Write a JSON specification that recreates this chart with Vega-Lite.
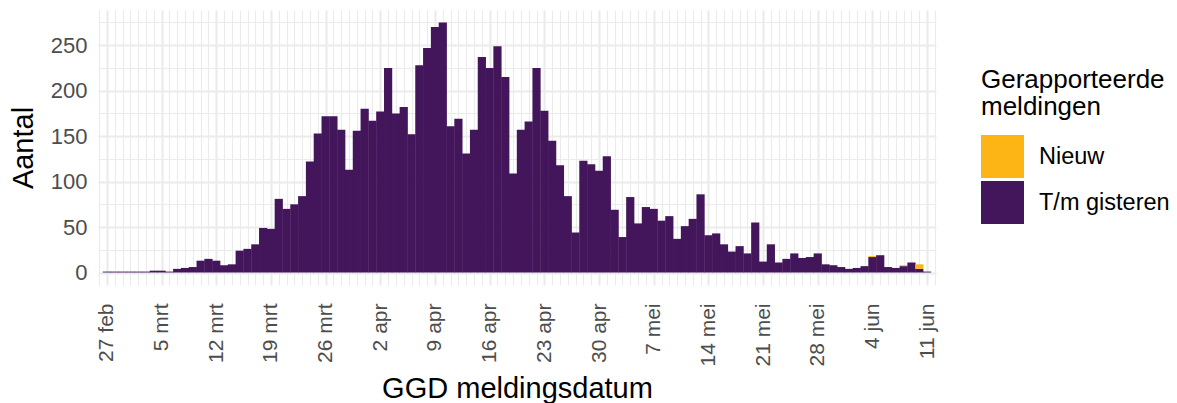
{
  "$schema": "https://vega.github.io/schema/vega-lite/v6.json",
  "width": 838,
  "height": 275,
  "autosize": {"type": "none"},
  "padding": {"left": 98, "top": 10, "right": 241, "bottom": 118},
  "background": "white",
  "config": {
    "font": "Liberation Sans",
    "view": {"stroke": null}
  },
  "data": {
    "values": [
      {"date": "2020-02-27", "serie": "T/m gisteren", "n": 1},
      {"date": "2020-02-28", "serie": "T/m gisteren", "n": 1},
      {"date": "2020-02-29", "serie": "T/m gisteren", "n": 1},
      {"date": "2020-03-01", "serie": "T/m gisteren", "n": 1},
      {"date": "2020-03-02", "serie": "T/m gisteren", "n": 1},
      {"date": "2020-03-03", "serie": "T/m gisteren", "n": 1},
      {"date": "2020-03-04", "serie": "T/m gisteren", "n": 2},
      {"date": "2020-03-05", "serie": "T/m gisteren", "n": 2},
      {"date": "2020-03-06", "serie": "T/m gisteren", "n": 1},
      {"date": "2020-03-07", "serie": "T/m gisteren", "n": 4},
      {"date": "2020-03-08", "serie": "T/m gisteren", "n": 5},
      {"date": "2020-03-09", "serie": "T/m gisteren", "n": 6},
      {"date": "2020-03-10", "serie": "T/m gisteren", "n": 13},
      {"date": "2020-03-11", "serie": "T/m gisteren", "n": 15},
      {"date": "2020-03-12", "serie": "T/m gisteren", "n": 13},
      {"date": "2020-03-13", "serie": "T/m gisteren", "n": 8},
      {"date": "2020-03-14", "serie": "T/m gisteren", "n": 9},
      {"date": "2020-03-15", "serie": "T/m gisteren", "n": 24},
      {"date": "2020-03-16", "serie": "T/m gisteren", "n": 26},
      {"date": "2020-03-17", "serie": "T/m gisteren", "n": 31},
      {"date": "2020-03-18", "serie": "T/m gisteren", "n": 49},
      {"date": "2020-03-19", "serie": "T/m gisteren", "n": 48},
      {"date": "2020-03-20", "serie": "T/m gisteren", "n": 81},
      {"date": "2020-03-21", "serie": "T/m gisteren", "n": 70},
      {"date": "2020-03-22", "serie": "T/m gisteren", "n": 75},
      {"date": "2020-03-23", "serie": "T/m gisteren", "n": 84},
      {"date": "2020-03-24", "serie": "T/m gisteren", "n": 122},
      {"date": "2020-03-25", "serie": "T/m gisteren", "n": 153},
      {"date": "2020-03-26", "serie": "T/m gisteren", "n": 172},
      {"date": "2020-03-27", "serie": "T/m gisteren", "n": 172},
      {"date": "2020-03-28", "serie": "T/m gisteren", "n": 157},
      {"date": "2020-03-29", "serie": "T/m gisteren", "n": 113},
      {"date": "2020-03-30", "serie": "T/m gisteren", "n": 156},
      {"date": "2020-03-31", "serie": "T/m gisteren", "n": 180},
      {"date": "2020-04-01", "serie": "T/m gisteren", "n": 167},
      {"date": "2020-04-02", "serie": "T/m gisteren", "n": 177},
      {"date": "2020-04-03", "serie": "T/m gisteren", "n": 225},
      {"date": "2020-04-04", "serie": "T/m gisteren", "n": 175},
      {"date": "2020-04-05", "serie": "T/m gisteren", "n": 182},
      {"date": "2020-04-06", "serie": "T/m gisteren", "n": 152},
      {"date": "2020-04-07", "serie": "T/m gisteren", "n": 228},
      {"date": "2020-04-08", "serie": "T/m gisteren", "n": 247},
      {"date": "2020-04-09", "serie": "T/m gisteren", "n": 270},
      {"date": "2020-04-10", "serie": "T/m gisteren", "n": 275},
      {"date": "2020-04-11", "serie": "T/m gisteren", "n": 161},
      {"date": "2020-04-12", "serie": "T/m gisteren", "n": 169},
      {"date": "2020-04-13", "serie": "T/m gisteren", "n": 131},
      {"date": "2020-04-14", "serie": "T/m gisteren", "n": 157},
      {"date": "2020-04-15", "serie": "T/m gisteren", "n": 237},
      {"date": "2020-04-16", "serie": "T/m gisteren", "n": 225},
      {"date": "2020-04-17", "serie": "T/m gisteren", "n": 249},
      {"date": "2020-04-18", "serie": "T/m gisteren", "n": 215},
      {"date": "2020-04-19", "serie": "T/m gisteren", "n": 109},
      {"date": "2020-04-20", "serie": "T/m gisteren", "n": 157},
      {"date": "2020-04-21", "serie": "T/m gisteren", "n": 166},
      {"date": "2020-04-22", "serie": "T/m gisteren", "n": 225},
      {"date": "2020-04-23", "serie": "T/m gisteren", "n": 178},
      {"date": "2020-04-24", "serie": "T/m gisteren", "n": 145},
      {"date": "2020-04-25", "serie": "T/m gisteren", "n": 118},
      {"date": "2020-04-26", "serie": "T/m gisteren", "n": 84},
      {"date": "2020-04-27", "serie": "T/m gisteren", "n": 44},
      {"date": "2020-04-28", "serie": "T/m gisteren", "n": 123},
      {"date": "2020-04-29", "serie": "T/m gisteren", "n": 119},
      {"date": "2020-04-30", "serie": "T/m gisteren", "n": 112},
      {"date": "2020-05-01", "serie": "T/m gisteren", "n": 128},
      {"date": "2020-05-02", "serie": "T/m gisteren", "n": 69},
      {"date": "2020-05-03", "serie": "T/m gisteren", "n": 39},
      {"date": "2020-05-04", "serie": "T/m gisteren", "n": 83},
      {"date": "2020-05-05", "serie": "T/m gisteren", "n": 54},
      {"date": "2020-05-06", "serie": "T/m gisteren", "n": 72},
      {"date": "2020-05-07", "serie": "T/m gisteren", "n": 70},
      {"date": "2020-05-08", "serie": "T/m gisteren", "n": 57},
      {"date": "2020-05-09", "serie": "T/m gisteren", "n": 62},
      {"date": "2020-05-10", "serie": "T/m gisteren", "n": 37},
      {"date": "2020-05-11", "serie": "T/m gisteren", "n": 51},
      {"date": "2020-05-12", "serie": "T/m gisteren", "n": 59},
      {"date": "2020-05-13", "serie": "T/m gisteren", "n": 86},
      {"date": "2020-05-14", "serie": "T/m gisteren", "n": 41},
      {"date": "2020-05-15", "serie": "T/m gisteren", "n": 43},
      {"date": "2020-05-16", "serie": "T/m gisteren", "n": 31},
      {"date": "2020-05-17", "serie": "T/m gisteren", "n": 23},
      {"date": "2020-05-18", "serie": "T/m gisteren", "n": 29},
      {"date": "2020-05-19", "serie": "T/m gisteren", "n": 21},
      {"date": "2020-05-20", "serie": "T/m gisteren", "n": 55},
      {"date": "2020-05-21", "serie": "T/m gisteren", "n": 12},
      {"date": "2020-05-22", "serie": "T/m gisteren", "n": 31},
      {"date": "2020-05-23", "serie": "T/m gisteren", "n": 11},
      {"date": "2020-05-24", "serie": "T/m gisteren", "n": 15},
      {"date": "2020-05-25", "serie": "T/m gisteren", "n": 21},
      {"date": "2020-05-26", "serie": "T/m gisteren", "n": 16},
      {"date": "2020-05-27", "serie": "T/m gisteren", "n": 17},
      {"date": "2020-05-28", "serie": "T/m gisteren", "n": 21},
      {"date": "2020-05-29", "serie": "T/m gisteren", "n": 9},
      {"date": "2020-05-30", "serie": "T/m gisteren", "n": 8},
      {"date": "2020-05-31", "serie": "T/m gisteren", "n": 6},
      {"date": "2020-06-01", "serie": "T/m gisteren", "n": 4},
      {"date": "2020-06-02", "serie": "T/m gisteren", "n": 5},
      {"date": "2020-06-03", "serie": "T/m gisteren", "n": 7},
      {"date": "2020-06-04", "serie": "T/m gisteren", "n": 17},
      {"date": "2020-06-04", "serie": "Nieuw", "n": 1},
      {"date": "2020-06-05", "serie": "T/m gisteren", "n": 19},
      {"date": "2020-06-06", "serie": "T/m gisteren", "n": 6},
      {"date": "2020-06-07", "serie": "T/m gisteren", "n": 5},
      {"date": "2020-06-08", "serie": "T/m gisteren", "n": 7},
      {"date": "2020-06-08", "serie": "Nieuw", "n": 1},
      {"date": "2020-06-09", "serie": "T/m gisteren", "n": 11},
      {"date": "2020-06-10", "serie": "T/m gisteren", "n": 4},
      {"date": "2020-06-10", "serie": "Nieuw", "n": 5},
      {"date": "2020-06-11", "serie": "T/m gisteren", "n": 1}
    ],
    "format": {"parse": {"date": "date:'%Y-%m-%d'"}}
  },
  "layer": [
    {
      "mark": {"type": "bar", "opacity": 0},
      "encoding": {
        "x": {
          "field": "date", "type": "temporal",
          "scale": {"domain": [{"year": 2020, "month": 2, "date": 26, "hours": 12}, {"year": 2020, "month": 6, "date": 11, "hours": 12}]},
          "axis": {"orient": "bottom", "title": null, "labels": false, "ticks": false, "domain": false, "grid": true, "gridColor": "#EBEBEB", "gridWidth": 1.1, "tickCount": {"interval": "day", "step": 1}}
        },
        "y": {
          "field": "n", "type": "quantitative",
          "scale": {"domain": [-13.75, 288.75], "nice": false, "zero": false},
          "axis": {"orient": "left", "title": null, "labels": false, "ticks": false, "domain": false, "grid": true, "gridColor": "#EBEBEB", "gridWidth": 1.1, "values": [25, 75, 125, 175, 225, 275]}
        }
      }
    },
    {
      "mark": {"type": "bar", "width": 8.2},
      "encoding": {
        "x": {
          "field": "date", "type": "temporal",
          "scale": {"domain": [{"year": 2020, "month": 2, "date": 26, "hours": 12}, {"year": 2020, "month": 6, "date": 11, "hours": 12}]},
          "axis": {
            "orient": "bottom",
            "title": "GGD meldingsdatum",
            "values": [
              {"year": 2020, "month": 2, "date": 27},
              {"year": 2020, "month": 3, "date": 5},
              {"year": 2020, "month": 3, "date": 12},
              {"year": 2020, "month": 3, "date": 19},
              {"year": 2020, "month": 3, "date": 26},
              {"year": 2020, "month": 4, "date": 2},
              {"year": 2020, "month": 4, "date": 9},
              {"year": 2020, "month": 4, "date": 16},
              {"year": 2020, "month": 4, "date": 23},
              {"year": 2020, "month": 4, "date": 30},
              {"year": 2020, "month": 5, "date": 7},
              {"year": 2020, "month": 5, "date": 14},
              {"year": 2020, "month": 5, "date": 21},
              {"year": 2020, "month": 5, "date": 28},
              {"year": 2020, "month": 6, "date": 4},
              {"year": 2020, "month": 6, "date": 11}
            ],
            "labelExpr": "timeFormat(datum.value, '%-d') + ' ' + ['jan','feb','mrt','apr','mei','jun','jul','aug','sep','okt','nov','dec'][month(datum.value)]",
            "labelAngle": -90,
            "labelFontSize": 21,
            "labelColor": "#4D4D4D",
            "labelPadding": 18,
            "labelOverlap": false,
            "labelFlush": false,
            "ticks": false,
            "domain": false,
            "grid": true,
            "gridColor": "#EBEBEB",
            "gridWidth": 2.1,
            "titleFontSize": 29,
            "titleFontWeight": "normal",
            "titleColor": "#000000",
            "titlePadding": 8
          }
        },
        "y": {
          "field": "n", "type": "quantitative",
          "scale": {"domain": [-13.75, 288.75], "nice": false, "zero": false},
          "axis": {
            "orient": "left",
            "title": "Aantal",
            "values": [0, 50, 100, 150, 200, 250],
            "labelFontSize": 22,
            "labelColor": "#4D4D4D",
            "labelPadding": 11,
            "ticks": false,
            "domain": false,
            "grid": true,
            "gridColor": "#EBEBEB",
            "gridWidth": 2.1,
            "titleFontSize": 29,
            "titleFontWeight": "normal",
            "titleColor": "#000000",
            "titlePadding": 12
          }
        },
        "color": {
          "field": "serie", "type": "nominal",
          "scale": {"domain": ["Nieuw", "T/m gisteren"], "range": ["#FDB515", "#43155A"]},
          "legend": {
            "orient": "none",
            "legendX": 883,
            "legendY": 57,
            "title": ["Gerapporteerde", "meldingen"],
            "titleFontSize": 26,
            "titleFontWeight": "normal",
            "titleColor": "#000000",
            "titleLineHeight": 27,
            "titleLimit": 400,
            "titlePadding": 15,
            "titleAnchor": "start",
            "symbolType": "square",
            "symbolSize": 1849,
            "symbolStrokeWidth": 0,
            "symbolOpacity": 1,
            "labelFontSize": 23.5,
            "labelLimit": 400,
            "labelColor": "#000000",
            "labelOffset": 15,
            "rowPadding": 3
          }
        },
        "order": {"field": "serie", "sort": "descending"}
      }
    }
  ],
  "resolve": {"axis": {"x": "independent", "y": "independent"}}
}
